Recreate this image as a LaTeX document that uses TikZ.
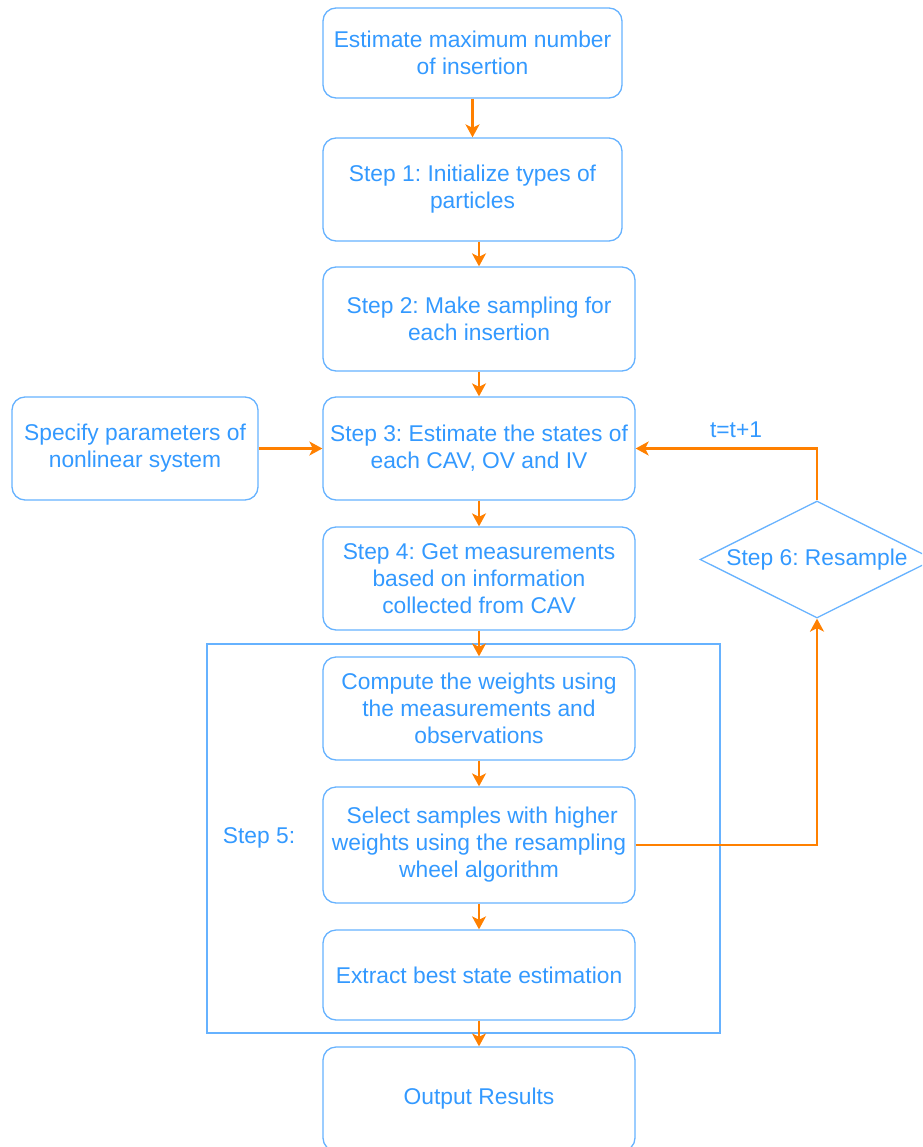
\documentclass[tikz,border=0pt]{standalone}
\usepackage{fontspec}
\setmainfont{Liberation Sans}
\usetikzlibrary{arrows.meta,shapes.geometric}
\definecolor{txtblue}{HTML}{3399FF}
\definecolor{lineblue}{HTML}{66B2FF}
\definecolor{arrorange}{HTML}{FF8000}
\frenchspacing
\begin{document}
\begin{tikzpicture}[x=1pt,y=-1pt,
  box/.style={draw=lineblue,line width=1.3pt,rounded corners=13pt,text=txtblue,align=center,inner sep=0pt,font=\fontsize{22.8}{27}\selectfont},
  conn/.style={draw=arrorange,line width=2.2pt,-{Stealth[length=13pt,width=14pt,inset=3.5pt]}},
  lbl/.style={text=txtblue,font=\fontsize{22.8}{27}\selectfont}]
\useasboundingbox (0,0) rectangle (922,1147);
\begin{scope}
\clip (0,0) rectangle (922,1147);
\node[box,minimum width=299pt,minimum height=90pt] (b0) at (472.5,53) {Estimate maximum number\\of insertion};
\node[box,minimum width=299pt,minimum height=103pt] (b1) at (472.5,189.5) {Step 1: Initialize types of\\particles};
\node[box,minimum width=312pt,minimum height=104pt] (b2) at (479,319) {Step 2: Make sampling for\\each insertion};
\node[box,minimum width=312pt,minimum height=103pt] (b3) at (479,448.5) {Step 3: Estimate the states of\\each CAV, OV and IV};
\node[box,minimum width=246pt,minimum height=103pt] (bl) at (135,448.5) {Specify parameters of\\nonlinear system};
\node[box,minimum width=312pt,minimum height=103pt] (b4) at (479,578.5) {Step 4: Get measurements\\based on information\\collected from CAV};
\node[draw=lineblue,line width=1.3pt,minimum width=513pt,minimum height=389pt,inner sep=0pt] (grp) at (463.5,838.5) {};
\node[box,minimum width=312pt,minimum height=103pt] (b5a) at (479,708.5) {Compute the weights using\\the measurements and\\observations};
\node[box,minimum width=312pt,minimum height=116pt] (b5b) at (479,845) {\ Select samples with higher\\weights using the resampling\\wheel algorithm};
\node[box,minimum width=312pt,minimum height=90pt] (b5c) at (479,975) {Extract best state estimation};
\node[box,minimum width=312pt,minimum height=104pt] (out) at (479,1099) {Output Results};
\node[draw=lineblue,line width=1.3pt,diamond,aspect=2,minimum width=234pt,minimum height=117pt,inner sep=0pt,text=txtblue,font=\fontsize{22.8}{27}\selectfont] (d6) at (817,559.5) {Step 6: Resample};
\node[lbl] (s5) at (259,838) {Step 5:};
\node[lbl] (tt) at (736,430) {t=t+1};
\draw[conn] (b0.south) -- (b1.north);
\draw[conn] (b1.south -| b2.south) -- (b2.north);
\draw[conn] (b2) -- (b3);
\draw[conn] (b3) -- (b4);
\draw[conn] (b4) -- (b5a);
\draw[conn] (b5a) -- (b5b);
\draw[conn] (b5b) -- (b5c);
\draw[conn] (b5c) -- (out);
\draw[conn] (bl) -- (b3);
\draw[conn] (d6.north) |- (b3.east);
\draw[conn] (b5b.east) -| (d6.south);
\end{scope}
\end{tikzpicture}
\end{document}
